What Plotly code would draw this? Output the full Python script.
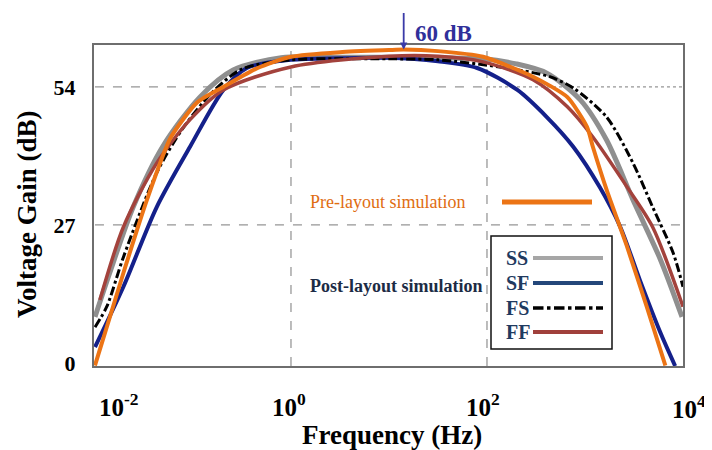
import plotly.graph_objects as go

# ---- data (log10 of frequency in Hz, gain in dB) ----
ss_logf = [-2.0, -1.85, -1.61, -1.31, -0.93, -0.59, -0.1, 0.5, 1.0, 1.5, 1.96, 2.3, 2.61, 2.95, 3.22, 3.49, 3.77, 3.99]
ss_gain = [9.0, 17.6, 30.5, 42.3, 52.0, 57.3, 59.7, 59.8, 59.8, 59.7, 59.5, 58.5, 56.7, 51.5, 43.6, 31.9, 20.2, 9.0]

sf_logf = [-2.0, -1.71, -1.37, -1.03, -0.69, -0.45, 0.0, 0.5, 1.0, 1.5, 1.9, 2.31, 2.61, 2.88, 3.15, 3.36, 3.56, 3.77, 3.92]
sf_gain = [3.1, 14.9, 30.5, 42.3, 53.4, 57.7, 59.3, 59.6, 59.7, 59.0, 57.7, 53.4, 48.1, 42.3, 34.4, 26.6, 16.2, 5.9, -0.6]

fs_logf = [-2.0, -1.88, -1.71, -1.37, -1.1, -0.8, -0.5, 0.0, 0.5, 1.0, 1.5, 2.13, 2.64, 2.88, 3.22, 3.49, 3.69, 3.9, 4.0]
fs_gain = [7.0, 11.0, 20.7, 37.2, 46.0, 53.0, 57.5, 59.3, 59.5, 59.5, 59.3, 57.9, 56.0, 53.8, 48.1, 39.1, 30.5, 21.5, 14.9]

ff_logf = [-1.95, -1.71, -1.37, -1.03, -0.69, 0.0, 1.0, 1.5, 1.96, 2.47, 2.82, 3.08, 3.43, 3.69, 4.0]
ff_gain = [12.3, 26.6, 39.1, 47.6, 53.4, 57.9, 60.0, 60.0, 58.9, 55.4, 50.1, 44.2, 34.4, 26.6, 11.0]

pre_logf = [-2.0, -1.71, -1.47, -1.23, -0.96, -0.69, -0.34, 0.0, 0.5, 1.0, 1.15, 1.5, 1.96, 2.47, 2.82, 3.02, 3.08, 3.22, 3.43, 3.63, 3.82]
pre_gain = [-0.5, 17.6, 31.9, 44.0, 50.9, 54.0, 57.7, 59.9, 60.8, 61.2, 61.3, 61.0, 59.9, 56.0, 52.0, 46.2, 42.3, 33.9, 22.7, 11.0, -0.5]

x_tick_logf = [-2, 0, 2, 4]
x_ticktext = ["10<sup>-2</sup>", "10<sup>0</sup>", "10<sup>2</sup>", "10<sup>4</sup>"]
y_ticks = [0, 27, 54]
y_ticktext = ["0", "27", "54"]
peak_label = "60 dB"
peak_logf = 1.15
peak_gain = 61.3

SERIF = "Liberation Serif, Times New Roman, serif"

# page body has an 8px default margin: figure placed so plot area spans x 94..683, y 45..366
OFF = 8
def px(v):
    return (v - 94) / 589

def py(v):
    return (366 - v) / 321

def hz(lf):
    return [10 ** v for v in lf]

fig = go.Figure()
fig.add_trace(go.Scatter(x=hz(ss_logf), y=ss_gain, mode="lines", name="SS",
                         line=dict(color="#8f8f8f", width=5, shape="spline", smoothing=0.8)))
fig.add_trace(go.Scatter(x=hz(sf_logf), y=sf_gain, mode="lines", name="SF",
                         line=dict(color="#14208a", width=4, shape="spline", smoothing=0.8)))
fig.add_trace(go.Scatter(x=hz(fs_logf), y=fs_gain, mode="lines", name="FS",
                         line=dict(color="#000000", width=3, dash="dashdot", shape="spline", smoothing=0.8)))
fig.add_trace(go.Scatter(x=hz(ff_logf), y=ff_gain, mode="lines", name="FF",
                         line=dict(color="#a3423c", width=3.5, shape="spline", smoothing=0.8)))
fig.add_trace(go.Scatter(x=hz(pre_logf), y=pre_gain, mode="lines", name="Pre-layout",
                         line=dict(color="#ec7415", width=4, shape="spline", smoothing=0.6)))

# grid lines (dashed) at 27/54 dB and 1 Hz / 100 Hz
grid = dict(color="#7a7a7a", width=1)
fig.add_shape(type="line", xref="x", yref="y", x0=0.01, x1=100, y0=54, y1=54, line=dict(**grid, dash="dash"), layer="below")
fig.add_shape(type="line", xref="x", yref="y", x0=100, x1=10000, y0=54, y1=54, line=dict(**grid, dash="dot"), layer="below")
fig.add_shape(type="line", xref="x", yref="y", x0=0.01, x1=10000, y0=27, y1=27, line=dict(**grid, dash="dash"), layer="below")
for xv in [1, 100]:
    fig.add_shape(type="line", xref="x", yref="paper", x0=xv, x1=xv, y0=0, y1=1, line=dict(**grid, dash="dash"), layer="below")

# x tick labels (placed under the axis through the log x scale: annotation x is log10 value)
x_label_shift = [24, -2, -4, 6]
x_label_y = [405, 405, 405, 407]
for lf, txt, sh, yy in zip(x_tick_logf, x_ticktext, x_label_shift, x_label_y):
    fig.add_annotation(x=lf, y=py(yy), xref="x", yref="paper", xshift=sh, xanchor="center",
                       text="<b>" + txt + "</b>", showarrow=False, yanchor="middle",
                       font=dict(family=SERIF, size=25, color="black"))

# axis titles
fig.add_annotation(x=px(392), y=py(435), xref="paper", yref="paper", text="<b>Frequency (Hz)</b>",
                   showarrow=False, xanchor="center", yanchor="middle",
                   font=dict(family=SERIF, size=27, color="black"))
fig.add_annotation(x=px(27), y=py(214), xref="paper", yref="paper", text="<b>Voltage Gain (dB)</b>",
                   showarrow=False, textangle=-90, xanchor="center", yanchor="middle",
                   font=dict(family=SERIF, size=27, color="black"))

# peak annotation
fig.add_annotation(x=peak_logf, y=peak_gain, xref="x", yref="y", text="", showarrow=True,
                   ax=0, ay=-38, arrowhead=2, arrowsize=0.8, arrowwidth=1.8, arrowcolor="#3a3aa8")
fig.add_annotation(x=px(413), y=py(33), xref="paper", yref="paper", yanchor="middle", xanchor="left",
                   text="<b>" + peak_label + "</b>", showarrow=False,
                   font=dict(family=SERIF, size=23, color="#30309a"))

# text labels
fig.add_annotation(x=px(387), y=py(202), xref="paper", yref="paper", xanchor="center", yanchor="middle",
                   text="Pre-layout simulation", showarrow=False,
                   font=dict(family=SERIF, size=18, color="#e06d12"))
fig.add_shape(type="line", xref="paper", yref="paper", x0=px(502), x1=px(592),
              y0=py(202), y1=py(202), line=dict(color="#ec7415", width=5))
fig.add_annotation(x=px(396), y=py(286), xref="paper", yref="paper", xanchor="center", yanchor="middle",
                   text="<b>Post-layout simulation</b>", showarrow=False,
                   font=dict(family=SERIF, size=18, color="#1c2b45"))

# custom legend (text left of line sample)
fig.add_shape(type="rect", xref="paper", yref="paper", x0=px(491), x1=px(612), y0=py(349), y1=py(236),
              line=dict(color="#111111", width=1.5), fillcolor="white", layer="above")
legend_items = [("SS", "#a6a6a6", "solid", 258), ("SF", "#24477a", "solid", 283),
                ("FS", "#000000", "dashdot", 308), ("FF", "#a0403b", "solid", 332)]
for name, col, dash, yy in legend_items:
    fig.add_annotation(x=px(504), y=py(yy), xref="paper", yref="paper", xanchor="left", yanchor="middle",
                       text="<b>" + name + "</b>", showarrow=False,
                       font=dict(family=SERIF, size=20, color="#1f3a60"))
    fig.add_shape(type="line", xref="paper", yref="paper", x0=px(533), x1=px(603), y0=py(yy), y1=py(yy),
                  line=dict(color=col, width=4 if dash == "solid" else 3.5, dash=dash))

fig.update_layout(
    width=712 - OFF, height=450 - OFF,
    margin=dict(l=94 - OFF, r=29, t=45 - OFF, b=84),
    paper_bgcolor="white", plot_bgcolor="white",
    showlegend=False,
    xaxis=dict(type="log", range=[-2.01, 4.0], tickvals=[10 ** v for v in x_tick_logf],
               showticklabels=False,
               showgrid=False, zeroline=False, showline=True, mirror=True,
               linecolor="#6e6e6e", linewidth=2, ticks=""),
    yaxis=dict(range=[-0.6, 62.2], tickvals=y_ticks, ticktext=["<b>%s</b>" % t for t in y_ticktext],
               showgrid=False, zeroline=False, showline=True, mirror=True,
               linecolor="#6e6e6e", linewidth=2, ticks="", ticklabelstandoff=12,
               tickfont=dict(family=SERIF, size=22, color="black")),
)

fig.write_html("out.html")
